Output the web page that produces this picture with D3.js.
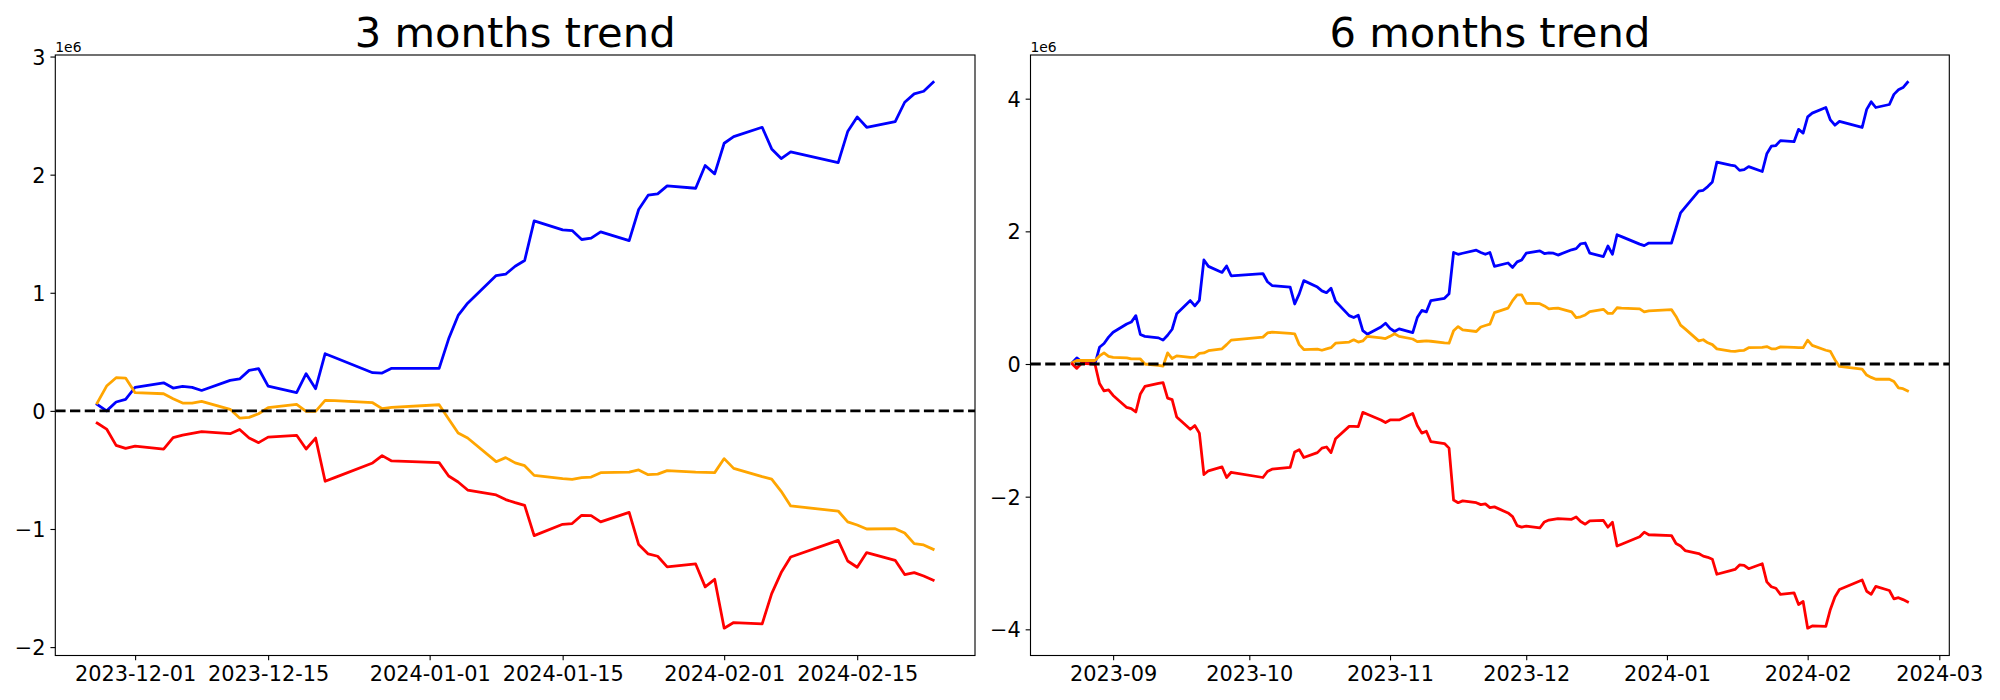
<!DOCTYPE html>
<html>
<head>
<meta charset="utf-8">
<title>trend</title>
<script src="https://d3js.org/d3.v7.min.js"></script>
<style>
  body { margin: 0; background: #fff; }
  text { font-family: "DejaVu Sans", sans-serif; }
</style>
</head>
<body>
<div id="chart"></div>
<script>
// trading days, 6 month window
var dates6 = [
  "2023-08-23","2023-08-24","2023-08-25","2023-08-28","2023-08-29","2023-08-30","2023-08-31",
  "2023-09-01","2023-09-04","2023-09-05","2023-09-06","2023-09-07","2023-09-08","2023-09-11","2023-09-12","2023-09-13","2023-09-14","2023-09-15","2023-09-18","2023-09-19","2023-09-20","2023-09-21","2023-09-22","2023-09-25","2023-09-26","2023-09-27",
  "2023-10-04","2023-10-05","2023-10-06","2023-10-10","2023-10-11","2023-10-12","2023-10-13","2023-10-16","2023-10-17","2023-10-18","2023-10-19","2023-10-20","2023-10-23","2023-10-24","2023-10-25","2023-10-26","2023-10-27","2023-10-30","2023-10-31",
  "2023-11-01","2023-11-02","2023-11-03","2023-11-06","2023-11-07","2023-11-08","2023-11-09","2023-11-10","2023-11-13","2023-11-14","2023-11-15","2023-11-16","2023-11-17","2023-11-20","2023-11-21","2023-11-22","2023-11-23","2023-11-24","2023-11-27","2023-11-28","2023-11-29","2023-11-30",
  "2023-12-01","2023-12-04","2023-12-05","2023-12-06","2023-12-07","2023-12-08","2023-12-11","2023-12-12","2023-12-13","2023-12-14","2023-12-15","2023-12-18","2023-12-19","2023-12-20","2023-12-21","2023-12-22","2023-12-26","2023-12-27","2023-12-28",
  "2024-01-02","2024-01-03","2024-01-04","2024-01-05","2024-01-08","2024-01-09","2024-01-10","2024-01-11","2024-01-12","2024-01-15","2024-01-16","2024-01-17","2024-01-18","2024-01-19","2024-01-22","2024-01-23","2024-01-24","2024-01-25","2024-01-26","2024-01-29","2024-01-30","2024-01-31",
  "2024-02-01","2024-02-02","2024-02-05","2024-02-06","2024-02-07","2024-02-08","2024-02-13","2024-02-14","2024-02-15","2024-02-16","2024-02-19","2024-02-20","2024-02-21","2024-02-22","2024-02-23"
];

// values in units of 1e6
var blue6 = [
  0.02, 0.093, 0.036, 0.0, 0.252, 0.309, 0.405,
  0.479, 0.604, 0.632, 0.729, 0.445, 0.417, 0.394, 0.36, 0.434, 0.524, 0.757, 0.956, 0.876, 0.961, 1.569, 1.472, 1.381, 1.478, 1.33,
  1.364, 1.24, 1.183, 1.16, 0.905, 1.058, 1.257, 1.16, 1.103, 1.075, 1.143, 0.945, 0.729, 0.7, 0.735, 0.502, 0.45, 0.558, 0.615,
  0.536, 0.49, 0.53, 0.473, 0.7, 0.808, 0.786, 0.956, 0.99, 1.058, 1.682, 1.654, 1.67, 1.716, 1.682, 1.654, 1.682, 1.472, 1.523, 1.455, 1.54, 1.569,
  1.671, 1.705, 1.665, 1.677, 1.671, 1.642, 1.722, 1.739, 1.813, 1.824, 1.671, 1.62, 1.779, 1.654, 1.949, 1.92, 1.807, 1.784, 1.824,
  1.824, 2.05, 2.278, 2.363, 2.607, 2.619, 2.675, 2.743, 3.044, 2.998, 2.987, 2.919, 2.93, 2.976, 2.902, 3.169, 3.283, 3.294, 3.368, 3.351, 3.538, 3.481,
  3.725, 3.782, 3.867, 3.68, 3.6, 3.657, 3.566, 3.839, 3.953, 3.867, 3.912, 4.065, 4.133, 4.168, 4.247
];
var orange6 = [
  0.02, 0.053, 0.053, 0.053, 0.122, 0.167, 0.116,
  0.099, 0.093, 0.076, 0.076, 0.076, 0.0, -0.02, -0.032, 0.167, 0.082, 0.122, 0.099, 0.104, 0.161, 0.167, 0.2, 0.229, 0.292, 0.36,
  0.405, 0.468, 0.479, 0.462, 0.456, 0.292, 0.218, 0.224, 0.207, 0.229, 0.246, 0.314, 0.331, 0.365, 0.331, 0.348, 0.417, 0.394, 0.383,
  0.417, 0.456, 0.417, 0.377, 0.337, 0.343, 0.348, 0.343, 0.32, 0.314, 0.502, 0.564, 0.513, 0.49, 0.558, 0.581, 0.6, 0.774, 0.842, 0.956, 1.041, 1.041,
  0.916, 0.91, 0.876, 0.831, 0.837, 0.842, 0.786, 0.7, 0.712, 0.74, 0.791, 0.825, 0.763, 0.763, 0.848, 0.842, 0.831, 0.786, 0.802,
  0.82, 0.717, 0.587, 0.53, 0.349, 0.366, 0.32, 0.292, 0.228, 0.195, 0.19, 0.201, 0.207, 0.246, 0.252, 0.263, 0.229, 0.229, 0.258, 0.252, 0.246, 0.246,
  0.36, 0.28, 0.207, 0.19, 0.065, -0.037, -0.077, -0.167, -0.202, -0.23, -0.23, -0.264, -0.36, -0.372, -0.406
];
var red6 = [
  0.0, -0.066, 0.008, 0.0, -0.293, -0.406, -0.389,
  -0.474, -0.655, -0.672, -0.723, -0.451, -0.338, -0.293, -0.281, -0.514, -0.537, -0.798, -0.984, -0.928, -1.042, -1.666, -1.61, -1.552, -1.711, -1.632,
  -1.711, -1.62, -1.586, -1.558, -1.325, -1.291, -1.41, -1.336, -1.268, -1.251, -1.336, -1.126, -0.94, -0.94, -0.945, -0.729, -0.758, -0.843, -0.882,
  -0.843, -0.843, -0.843, -0.746, -0.928, -1.042, -1.013, -1.172, -1.2, -1.268, -2.051, -2.091, -2.063, -2.091, -2.12, -2.108, -2.165, -2.154, -2.245, -2.3, -2.437, -2.46,
  -2.443, -2.472, -2.381, -2.353, -2.341, -2.33, -2.341, -2.307, -2.375, -2.415, -2.364, -2.358, -2.46, -2.386, -2.744, -2.716, -2.603, -2.535, -2.574,
  -2.586, -2.705, -2.744, -2.812, -2.858, -2.897, -2.914, -2.943, -3.17, -3.114, -3.097, -3.029, -3.035, -3.086, -3.012, -3.284, -3.358, -3.381, -3.472, -3.45, -3.626, -3.58,
  -3.983, -3.949, -3.955, -3.7, -3.512, -3.399, -3.255, -3.426, -3.472, -3.353, -3.415, -3.54, -3.523, -3.552, -3.586
];

// 3 month window starts on 2023-11-27
var dates3 = dates6.slice(dates6.indexOf("2023-11-27"));
var blue3 = [
  0.055, 0.0, 0.075, 0.097,
  0.20, 0.238, 0.193, 0.207, 0.199, 0.173, 0.258, 0.27, 0.343, 0.357, 0.21, 0.154, 0.315, 0.188, 0.484, 0.452, 0.323, 0.32, 0.36,
  0.36, 0.61, 0.808, 0.912, 1.146, 1.157, 1.225, 1.273, 1.609, 1.533, 1.527, 1.451, 1.462, 1.516, 1.442, 1.705, 1.826, 1.837, 1.905, 1.885, 2.077, 2.007,
  2.266, 2.322, 2.401, 2.218, 2.136, 2.193, 2.102, 2.365, 2.489, 2.401, 2.449, 2.613, 2.684, 2.706, 2.782
];
var orange3 = [
  0.066, 0.21, 0.281, 0.278,
  0.154, 0.145, 0.103, 0.066, 0.066, 0.08, 0.013, -0.061, -0.055, -0.024, 0.027, 0.055, -0.004, -0.004, 0.089, 0.086, 0.069, 0.019, 0.03,
  0.052, -0.069, -0.188, -0.23, -0.43, -0.396, -0.44, -0.464, -0.546, -0.574, -0.58, -0.565, -0.56, -0.523, -0.518, -0.50, -0.54, -0.535, -0.506, -0.518, -0.52, -0.523,
  -0.404, -0.487, -0.557, -0.577, -0.681, -0.805, -0.848, -0.94, -0.966, -1.0, -0.997, -1.034, -1.124, -1.135, -1.172
];
var red3 = [
  -0.103, -0.154, -0.292, -0.317,
  -0.298, -0.323, -0.227, -0.205, -0.19, -0.176, -0.193, -0.157, -0.23, -0.269, -0.222, -0.207, -0.323, -0.23, -0.596, -0.565, -0.441, -0.379, -0.424,
  -0.438, -0.551, -0.602, -0.67, -0.712, -0.751, -0.777, -0.8, -1.056, -0.96, -0.954, -0.884, -0.887, -0.94, -0.859, -1.132, -1.211, -1.231, -1.321, -1.296, -1.49, -1.426,
  -1.84, -1.792, -1.804, -1.547, -1.369, -1.237, -1.096, -1.271, -1.324, -1.2, -1.265, -1.386, -1.369, -1.398, -1.434
];

var xticks3 = ["2023-12-01", "2023-12-15", "2024-01-01", "2024-01-15", "2024-02-01", "2024-02-15"];
var xticks6 = ["2023-09-01", "2023-10-01", "2023-11-01", "2023-12-01", "2024-01-01", "2024-02-01", "2024-03-01"];
var yticks3 = [-2, -1, 0, 1, 2, 3];
var yticks6 = [-4, -2, 0, 2, 4];

var colors = ["blue", "orange", "red"];
var parse = d3.utcParse("%Y-%m-%d");

var width = 2000, height = 700;
var plotTop = 55, plotBottom = 655.5;
var pt = 100 / 72;

var svg = d3.select("#chart").append("svg")
  .attr("width", width)
  .attr("height", height);

var panels = [
  { title: "3 months trend", dates: dates3, series: [blue3, orange3, red3],
    xticks: xticks3, fmt: "%Y-%m-%d", yticks: yticks3, left: 55.3, right: 975 },
  { title: "6 months trend", dates: dates6, series: [blue6, orange6, red6],
    xticks: xticks6, fmt: "%Y-%m", yticks: yticks6, left: 1030.5, right: 1949.3 }
];

// matplotlib style 5% margins
function pad(ext) {
  var m = (ext[1] - ext[0]) * 0.05;
  return [ext[0] - m, ext[1] + m];
}

panels.forEach(function (p, i) {
  var t = p.dates.map(parse);
  var xd = pad([+t[0], +t[t.length - 1]]);
  var x = d3.scaleUtc()
    .domain([new Date(xd[0]), new Date(xd[1])])
    .range([p.left, p.right]);

  var all = d3.merge(p.series);
  var y = d3.scaleLinear()
    .domain(pad(d3.extent(all)))
    .range([plotBottom, plotTop]);

  var g = svg.append("g");

  g.append("clipPath").attr("id", "clip" + i)
    .append("rect")
    .attr("x", p.left).attr("y", plotTop)
    .attr("width", p.right - p.left).attr("height", plotBottom - plotTop);

  var line = d3.line()
    .x(function (d, k) { return x(t[k]); })
    .y(function (d) { return y(d); });

  var plot = g.append("g").attr("clip-path", "url(#clip" + i + ")");

  p.series.forEach(function (s, k) {
    plot.append("path")
      .datum(s)
      .attr("d", line)
      .attr("fill", "none")
      .attr("stroke", colors[k])
      .attr("stroke-width", 2 * pt)
      .attr("stroke-linejoin", "round")
      .attr("stroke-linecap", "square");
  });

  // zero line
  plot.append("line")
    .attr("x1", p.left).attr("x2", p.right)
    .attr("y1", y(0)).attr("y2", y(0))
    .attr("stroke", "black")
    .attr("stroke-width", 2 * pt)
    .attr("stroke-dasharray", (7.4 * pt) + "," + (3.2 * pt));

  // axes
  var xAxis = d3.axisBottom(x)
    .tickValues(p.xticks.map(parse))
    .tickFormat(d3.utcFormat(p.fmt))
    .tickSizeOuter(0)
    .tickSize(3.5 * pt)
    .tickPadding(3.5 * pt);

  var gx = g.append("g")
    .attr("transform", "translate(0," + plotBottom + ")")
    .call(xAxis);

  var yAxis = d3.axisLeft(y)
    .tickValues(p.yticks)
    .tickFormat(d3.format("d"))
    .tickSizeOuter(0)
    .tickSize(3.5 * pt)
    .tickPadding(3.5 * pt);

  var gy = g.append("g")
    .attr("transform", "translate(" + p.left + ",0)")
    .call(yAxis);

  [gx, gy].forEach(function (a) {
    a.select(".domain").remove();
    a.selectAll(".tick line").attr("stroke", "black").attr("stroke-width", 0.8 * pt);
    a.selectAll(".tick text")
      .attr("fill", "black")
      .style("font-family", "'DejaVu Sans'")
      .style("font-size", (15 * pt) + "px");
  });
  gx.selectAll(".tick text").attr("dy", "0.76em");
  gy.selectAll(".tick text").attr("dy", "0.365em");

  // spines
  g.append("rect")
    .attr("x", p.left).attr("y", plotTop)
    .attr("width", p.right - p.left).attr("height", plotBottom - plotTop)
    .attr("fill", "none")
    .attr("stroke", "black")
    .attr("stroke-width", 0.8 * pt);

  // offset text
  g.append("text")
    .attr("x", p.left)
    .attr("y", 51.5)
    .style("font-size", (10 * pt) + "px")
    .text("1e6");

  // title
  g.append("text")
    .attr("x", (p.left + p.right) / 2)
    .attr("y", plotTop - 6 * pt)
    .attr("text-anchor", "middle")
    .style("font-size", (30 * pt) + "px")
    .text(p.title);
});
</script>
</body>
</html>
